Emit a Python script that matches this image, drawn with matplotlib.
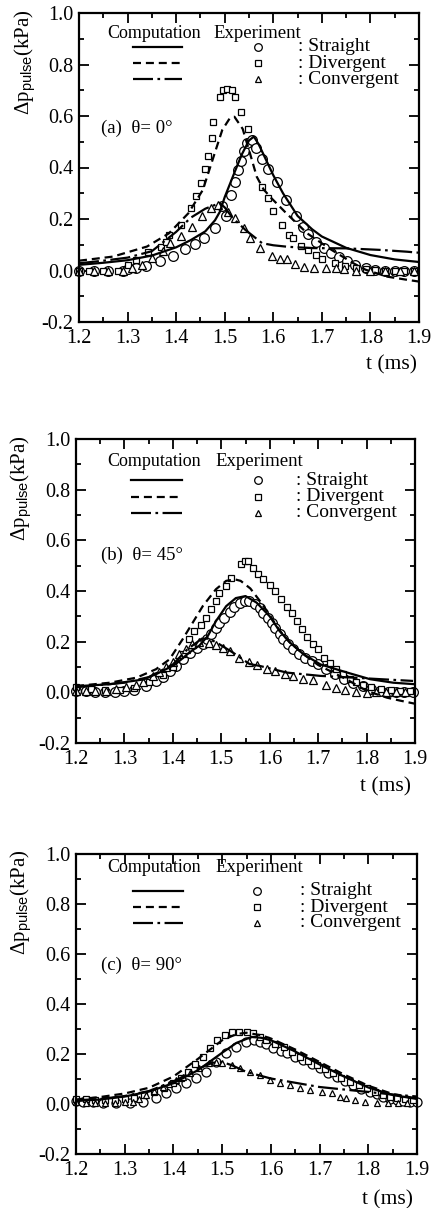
import matplotlib
matplotlib.use("Agg")
import matplotlib.pyplot as plt
from matplotlib.ticker import MultipleLocator, FormatStrFormatter

plt.rcParams["font.family"] = ["Liberation Serif", "DejaVu Serif"]
plt.rcParams["mathtext.fontset"] = "custom"
plt.rcParams["mathtext.rm"] = "Liberation Serif"
plt.rcParams["mathtext.it"] = "Liberation Serif:italic"
plt.rcParams["mathtext.sf"] = "Liberation Sans"

# ==================================================
# Panel (a) theta = 0 deg
# ==================================================
a_str_comp_t = [1.20, 1.25, 1.30, 1.35, 1.40, 1.43, 1.46, 1.48, 1.49, 1.50, 1.52, 1.535, 1.55, 1.56, 1.57, 1.585, 1.60, 1.62, 1.65, 1.68, 1.70, 1.75, 1.80, 1.85, 1.90]
a_str_comp_v = [0.022, 0.030, 0.040, 0.058, 0.090, 0.118, 0.152, 0.195, 0.228, 0.285, 0.380, 0.450, 0.505, 0.520, 0.490, 0.430, 0.370, 0.300, 0.212, 0.160, 0.132, 0.088, 0.060, 0.043, 0.033]
a_div_comp_t = [1.20, 1.27, 1.34, 1.385, 1.425, 1.455, 1.475, 1.495, 1.51, 1.52, 1.537, 1.552, 1.566, 1.58, 1.595, 1.627, 1.67, 1.72, 1.765, 1.79, 1.835, 1.875, 1.90]
a_div_comp_v = [0.038, 0.054, 0.093, 0.144, 0.222, 0.313, 0.430, 0.546, 0.590, 0.597, 0.550, 0.455, 0.364, 0.315, 0.283, 0.222, 0.144, 0.080, 0.028, 0.003, -0.024, -0.036, -0.043]
a_con_comp_t = [1.20, 1.25, 1.30, 1.35, 1.40, 1.43, 1.46, 1.49, 1.50, 1.516, 1.543, 1.577, 1.60, 1.63, 1.68, 1.75, 1.82, 1.875, 1.90]
a_con_comp_v = [0.028, 0.038, 0.050, 0.075, 0.150, 0.205, 0.240, 0.262, 0.245, 0.205, 0.157, 0.106, 0.098, 0.092, 0.087, 0.086, 0.080, 0.073, 0.069]

a_str_exp_t = [1.20, 1.23, 1.26, 1.29, 1.30, 1.318, 1.337, 1.366, 1.393, 1.418, 1.438, 1.457, 1.479, 1.495, 1.502, 1.512, 1.521, 1.528, 1.534, 1.539, 1.546, 1.557, 1.565, 1.576, 1.59, 1.608, 1.627, 1.646, 1.661, 1.672, 1.687, 1.704, 1.719, 1.735, 1.751, 1.768, 1.79, 1.81, 1.83, 1.85, 1.87, 1.89]
a_str_exp_v = [0.0, 0.0, 0.0, 0.0, 0.005, 0.010, 0.016, 0.035, 0.057, 0.082, 0.104, 0.125, 0.164, 0.250, 0.212, 0.293, 0.343, 0.390, 0.425, 0.465, 0.494, 0.505, 0.475, 0.434, 0.393, 0.342, 0.274, 0.210, 0.167, 0.143, 0.110, 0.086, 0.068, 0.051, 0.037, 0.023, 0.008, 0.003, 0.0, 0.0, 0.0, 0.0]
a_div_exp_t = [1.20, 1.22, 1.25, 1.28, 1.30, 1.317, 1.343, 1.368, 1.38, 1.385, 1.409, 1.43, 1.44, 1.452, 1.46, 1.466, 1.474, 1.475, 1.49, 1.497, 1.505, 1.514, 1.522, 1.534, 1.547, 1.576, 1.59, 1.60, 1.617, 1.633, 1.641, 1.658, 1.671, 1.688, 1.70, 1.727, 1.748, 1.77, 1.79, 1.81, 1.83, 1.85, 1.87, 1.89]
a_div_exp_v = [0.0, 0.0, 0.0, 0.0, 0.020, 0.040, 0.070, 0.093, 0.112, 0.138, 0.177, 0.241, 0.289, 0.341, 0.393, 0.443, 0.513, 0.578, 0.672, 0.700, 0.706, 0.700, 0.672, 0.615, 0.550, 0.325, 0.282, 0.231, 0.177, 0.138, 0.125, 0.096, 0.080, 0.060, 0.045, 0.030, 0.017, 0.010, 0.005, 0.003, 0.0, 0.0, 0.0, 0.0]
a_con_exp_t = [1.20, 1.23, 1.26, 1.29, 1.31, 1.33, 1.35, 1.373, 1.387, 1.41, 1.432, 1.453, 1.472, 1.486, 1.507, 1.521, 1.539, 1.553, 1.573, 1.597, 1.614, 1.628, 1.645, 1.664, 1.684, 1.709, 1.73, 1.745, 1.77, 1.80, 1.83, 1.86, 1.89]
a_con_exp_v = [0.0, 0.0, 0.0, 0.0, 0.008, 0.020, 0.047, 0.075, 0.105, 0.135, 0.170, 0.212, 0.243, 0.256, 0.228, 0.205, 0.166, 0.125, 0.086, 0.058, 0.045, 0.043, 0.027, 0.012, 0.010, 0.008, 0.010, 0.005, 0.0, 0.0, 0.0, 0.0, 0.0]

# ==================================================
# Panel (b) theta = 45 deg
# ==================================================
b_str_comp_t = [1.20, 1.27, 1.34, 1.37, 1.405, 1.434, 1.455, 1.472, 1.489, 1.51, 1.53, 1.55, 1.573, 1.60, 1.62, 1.642, 1.67, 1.705, 1.76, 1.807, 1.855, 1.90]
b_str_comp_v = [0.024, 0.032, 0.051, 0.076, 0.110, 0.157, 0.185, 0.222, 0.281, 0.340, 0.372, 0.380, 0.354, 0.300, 0.243, 0.196, 0.150, 0.110, 0.078, 0.052, 0.038, 0.032]
b_div_comp_t = [1.20, 1.27, 1.325, 1.365, 1.393, 1.42, 1.441, 1.462, 1.489, 1.51, 1.528, 1.54, 1.56, 1.58, 1.60, 1.62, 1.64, 1.67, 1.70, 1.76, 1.80, 1.842, 1.87, 1.90]
b_div_comp_v = [0.025, 0.038, 0.058, 0.091, 0.130, 0.209, 0.275, 0.341, 0.407, 0.440, 0.446, 0.440, 0.410, 0.360, 0.305, 0.245, 0.200, 0.150, 0.108, 0.050, 0.006, -0.021, -0.033, -0.045]
b_con_comp_t = [1.20, 1.30, 1.35, 1.40, 1.43, 1.46, 1.475, 1.496, 1.524, 1.558, 1.58, 1.635, 1.704, 1.773, 1.828, 1.896]
b_con_comp_v = [0.020, 0.038, 0.060, 0.110, 0.170, 0.212, 0.212, 0.190, 0.157, 0.112, 0.104, 0.078, 0.065, 0.058, 0.052, 0.045]

b_str_exp_t = [1.20, 1.22, 1.24, 1.26, 1.28, 1.30, 1.32, 1.345, 1.365, 1.38, 1.394, 1.406, 1.42, 1.435, 1.45, 1.462, 1.47, 1.479, 1.489, 1.496, 1.506, 1.517, 1.527, 1.538, 1.548, 1.558, 1.57, 1.579, 1.587, 1.597, 1.604, 1.611, 1.621, 1.628, 1.638, 1.648, 1.66, 1.672, 1.687, 1.70, 1.717, 1.734, 1.754, 1.771, 1.792, 1.81, 1.827, 1.844, 1.86, 1.878, 1.895]
b_str_exp_v = [0.005, 0.005, 0.0, 0.0, 0.0, 0.005, 0.010, 0.025, 0.045, 0.062, 0.085, 0.104, 0.130, 0.155, 0.175, 0.190, 0.210, 0.229, 0.255, 0.275, 0.295, 0.318, 0.337, 0.352, 0.360, 0.362, 0.347, 0.334, 0.315, 0.295, 0.275, 0.255, 0.229, 0.209, 0.190, 0.170, 0.150, 0.137, 0.124, 0.110, 0.091, 0.071, 0.051, 0.038, 0.025, 0.012, 0.005, 0.0, 0.0, 0.0, 0.0]
b_div_exp_t = [1.20, 1.23, 1.26, 1.29, 1.32, 1.35, 1.38, 1.40, 1.42, 1.434, 1.444, 1.458, 1.468, 1.479, 1.489, 1.496, 1.51, 1.52, 1.541, 1.548, 1.556, 1.566, 1.576, 1.587, 1.601, 1.611, 1.623, 1.635, 1.645, 1.657, 1.666, 1.678, 1.689, 1.70, 1.712, 1.724, 1.737, 1.752, 1.766, 1.779, 1.793, 1.81, 1.83, 1.85, 1.87, 1.89]
b_div_exp_v = [0.020, 0.012, 0.010, 0.010, 0.018, 0.040, 0.070, 0.100, 0.150, 0.209, 0.242, 0.264, 0.295, 0.328, 0.360, 0.393, 0.420, 0.453, 0.505, 0.518, 0.518, 0.492, 0.466, 0.446, 0.422, 0.400, 0.367, 0.337, 0.312, 0.281, 0.251, 0.220, 0.190, 0.170, 0.137, 0.114, 0.091, 0.071, 0.051, 0.040, 0.030, 0.020, 0.012, 0.008, 0.005, 0.005]
b_con_exp_t = [1.20, 1.22, 1.24, 1.262, 1.283, 1.303, 1.324, 1.338, 1.358, 1.372, 1.386, 1.40, 1.413, 1.427, 1.44, 1.455, 1.475, 1.489, 1.503, 1.517, 1.537, 1.558, 1.573, 1.594, 1.611, 1.632, 1.649, 1.669, 1.69, 1.717, 1.737, 1.755, 1.779, 1.80, 1.82, 1.84, 1.86, 1.88]
b_con_exp_v = [0.005, 0.005, 0.005, 0.005, 0.012, 0.020, 0.030, 0.040, 0.064, 0.080, 0.100, 0.120, 0.150, 0.170, 0.190, 0.200, 0.196, 0.186, 0.176, 0.163, 0.137, 0.120, 0.107, 0.094, 0.085, 0.071, 0.064, 0.051, 0.050, 0.028, 0.018, 0.009, 0.0, -0.003, 0.0, 0.0, 0.0, 0.0]

# ==================================================
# Panel (c) theta = 90 deg
# ==================================================
c_str_comp_t = [1.20, 1.25, 1.30, 1.35, 1.40, 1.45, 1.50, 1.53, 1.56, 1.58, 1.60, 1.65, 1.70, 1.75, 1.80, 1.85, 1.90]
c_str_comp_v = [0.012, 0.018, 0.030, 0.050, 0.083, 0.135, 0.205, 0.245, 0.268, 0.265, 0.255, 0.210, 0.158, 0.110, 0.066, 0.036, 0.020]
c_div_comp_t = [1.20, 1.25, 1.30, 1.35, 1.40, 1.45, 1.50, 1.53, 1.55, 1.58, 1.60, 1.65, 1.70, 1.75, 1.80, 1.85, 1.90]
c_div_comp_v = [0.018, 0.028, 0.042, 0.065, 0.110, 0.180, 0.255, 0.280, 0.285, 0.275, 0.262, 0.218, 0.168, 0.118, 0.073, 0.040, 0.022]
c_con_comp_t = [1.20, 1.25, 1.30, 1.35, 1.40, 1.45, 1.48, 1.50, 1.52, 1.55, 1.60, 1.65, 1.70, 1.75, 1.80, 1.85, 1.90]
c_con_comp_v = [0.015, 0.020, 0.032, 0.052, 0.090, 0.140, 0.165, 0.168, 0.155, 0.128, 0.102, 0.085, 0.068, 0.058, 0.048, 0.038, 0.030]

c_str_exp_t = [1.20, 1.214, 1.234, 1.255, 1.283, 1.31, 1.337, 1.364, 1.385, 1.405, 1.426, 1.446, 1.467, 1.487, 1.508, 1.528, 1.549, 1.565, 1.578, 1.591, 1.605, 1.62, 1.633, 1.65, 1.667, 1.684, 1.701, 1.718, 1.735, 1.752, 1.769, 1.786, 1.804, 1.818, 1.831, 1.845, 1.858, 1.872, 1.885, 1.90]
c_str_exp_v = [0.012, 0.010, 0.007, 0.005, 0.005, 0.005, 0.009, 0.023, 0.043, 0.063, 0.083, 0.103, 0.129, 0.169, 0.203, 0.229, 0.250, 0.258, 0.250, 0.240, 0.223, 0.212, 0.203, 0.190, 0.176, 0.160, 0.143, 0.126, 0.109, 0.092, 0.076, 0.062, 0.049, 0.039, 0.029, 0.022, 0.015, 0.012, 0.010, 0.010]
c_div_exp_t = [1.20, 1.22, 1.24, 1.26, 1.28, 1.30, 1.32, 1.34, 1.36, 1.38, 1.40, 1.415, 1.43, 1.445, 1.46, 1.475, 1.49, 1.505, 1.52, 1.535, 1.55, 1.564, 1.578, 1.591, 1.608, 1.626, 1.643, 1.66, 1.677, 1.694, 1.711, 1.728, 1.745, 1.763, 1.78, 1.797, 1.814, 1.831, 1.845, 1.858, 1.875, 1.892]
c_div_exp_v = [0.020, 0.020, 0.015, 0.015, 0.015, 0.020, 0.025, 0.035, 0.050, 0.065, 0.085, 0.105, 0.130, 0.160, 0.190, 0.225, 0.255, 0.275, 0.288, 0.290, 0.290, 0.283, 0.270, 0.256, 0.242, 0.229, 0.209, 0.189, 0.172, 0.156, 0.140, 0.123, 0.106, 0.089, 0.076, 0.063, 0.050, 0.036, 0.030, 0.023, 0.020, 0.016]
c_con_exp_t = [1.20, 1.22, 1.24, 1.26, 1.28, 1.30, 1.316, 1.33, 1.344, 1.36, 1.378, 1.39, 1.405, 1.42, 1.433, 1.453, 1.474, 1.488, 1.50, 1.521, 1.537, 1.557, 1.578, 1.598, 1.619, 1.639, 1.66, 1.681, 1.705, 1.725, 1.742, 1.755, 1.773, 1.793, 1.817, 1.84, 1.86, 1.88]
c_con_exp_v = [0.010, 0.005, 0.005, 0.005, 0.005, 0.008, 0.010, 0.022, 0.036, 0.052, 0.069, 0.082, 0.096, 0.110, 0.123, 0.143, 0.163, 0.167, 0.163, 0.155, 0.143, 0.130, 0.116, 0.096, 0.083, 0.076, 0.063, 0.056, 0.050, 0.043, 0.030, 0.023, 0.016, 0.010, 0.003, 0.003, 0.003, 0.003]

panel_tags = ["(a)", "(b)", "(c)"]
panel_angles = ["0", "45", "90"]
case_names = [": Straight", ": Divergent", ": Convergent"]
x_ticks = [1.2, 1.3, 1.4, 1.5, 1.6, 1.7, 1.8, 1.9]
y_ticks = [-0.2, 0.0, 0.2, 0.4, 0.6, 0.8, 1.0]

comp_data = [
    [(a_str_comp_t, a_str_comp_v), (a_div_comp_t, a_div_comp_v), (a_con_comp_t, a_con_comp_v)],
    [(b_str_comp_t, b_str_comp_v), (b_div_comp_t, b_div_comp_v), (b_con_comp_t, b_con_comp_v)],
    [(c_str_comp_t, c_str_comp_v), (c_div_comp_t, c_div_comp_v), (c_con_comp_t, c_con_comp_v)],
]
exp_data = [
    [(a_str_exp_t, a_str_exp_v), (a_div_exp_t, a_div_exp_v), (a_con_exp_t, a_con_exp_v)],
    [(b_str_exp_t, b_str_exp_v), (b_div_exp_t, b_div_exp_v), (b_con_exp_t, b_con_exp_v)],
    [(c_str_exp_t, c_str_exp_v), (c_div_exp_t, c_div_exp_v), (c_con_exp_t, c_con_exp_v)],
]

# ==================================================
# Styling / layout
# ==================================================
line_styles = ["-", (0, (3.6, 2.2)), (0, (9, 2, 1.2, 2))]
markers = ["o", "s", "^"]
marker_sizes = [[7, 5, 5.5], [7, 5, 5.5], [6.5, 4.6, 5]]
legend_ms = [5.5, 4.2, 4.5]

axes_rects = [
    [79 / 439, 1 - 322 / 1208, 340 / 439, 309 / 1208],
    [76 / 439, 1 - 743 / 1208, 339 / 439, 304 / 1208],
    [76 / 439, 1 - 1154 / 1208, 341 / 439, 300 / 1208],
]
# legend layout (axes fraction): header y, row ys, key x0/x1, marker x, label x, header x's
legend_layout = [
    dict(hy=0.935, rows=[0.890, 0.838, 0.786], kx=(0.159, 0.303), mx=0.526, lx=0.644, cx=0.082, ex=0.394, tag=(0.065, 0.628)),
    dict(hy=0.925, rows=[0.865, 0.810, 0.757], kx=(0.162, 0.313), mx=0.537, lx=0.649, cx=0.091, ex=0.410, tag=(0.074, 0.618)),
    dict(hy=0.955, rows=[0.878, 0.822, 0.771], kx=(0.166, 0.315), mx=0.530, lx=0.657, cx=0.091, ex=0.410, tag=(0.074, 0.630)),
]
xlabel_pos = [(0.994, -0.107), (0.987, -0.111), (0.989, -0.12)]
ylabel_x = [-0.12, -0.124, -0.124]

FS = 13.5

fig = plt.figure(figsize=(4.39, 12.08), dpi=100)

for p in range(3):
    ax = fig.add_axes(axes_rects[p])

    # experiment markers
    for k in range(3):
        t, v = exp_data[p][k]
        ax.plot(t, v, linestyle="none", marker=markers[k], ms=marker_sizes[p][k],
                mfc="white", mec="black", mew=0.9, zorder=2, clip_on=False)
    # computation curves
    for k in range(3):
        t, v = comp_data[p][k]
        ax.plot(t, v, color="black", lw=1.6, linestyle=line_styles[k], zorder=3)

    ax.set_xlim(1.2, 1.9)
    ax.set_ylim(-0.2, 1.0)
    ax.set_xticks(x_ticks)
    ax.set_yticks(y_ticks)
    ax.xaxis.set_minor_locator(MultipleLocator(0.05))
    ax.yaxis.set_minor_locator(MultipleLocator(0.1))
    ax.xaxis.set_major_formatter(FormatStrFormatter("%.1f"))
    ax.yaxis.set_major_formatter(FormatStrFormatter("%.1f"))
    ax.tick_params(which="both", direction="in", top=True, right=True, width=1.3, labelsize=14.5)
    ax.tick_params(which="major", length=7)
    ax.tick_params(which="minor", length=3.5)
    ax.tick_params(axis="x", pad=5)
    ax.tick_params(axis="y", pad=4)
    for sp in ax.spines.values():
        sp.set_linewidth(1.6)

    ax.set_ylabel(r"$\mathit{\Delta}\mathrm{p}_{\mathsf{pulse}}$(kPa)", fontsize=15)
    ax.yaxis.set_label_coords(ylabel_x[p], 0.84)
    ax.text(xlabel_pos[p][0], xlabel_pos[p][1], "t (ms)", transform=ax.transAxes,
            ha="right", va="top", fontsize=15.5)

    # legend block
    lay = legend_layout[p]
    ax.text(lay["cx"], lay["hy"], "Computation", transform=ax.transAxes, ha="left", va="center", fontsize=13)
    ax.text(lay["ex"], lay["hy"], "Experiment", transform=ax.transAxes, ha="left", va="center", fontsize=13.5)
    for k in range(3):
        y = lay["rows"][k]
        ax.plot(lay["kx"], [y, y], transform=ax.transAxes, color="black", lw=1.6, linestyle=line_styles[k])
        ax.plot([lay["mx"]], [y], transform=ax.transAxes, linestyle="none", marker=markers[k],
                ms=legend_ms[k], mfc="white", mec="black", mew=0.9)
        ax.text(lay["lx"], y, case_names[k], transform=ax.transAxes, ha="left", va="center", fontsize=FS + 0.5)

    ax.text(lay["tag"][0], lay["tag"][1], panel_tags[p] + "  \u03b8= " + panel_angles[p] + "\u00b0",
            transform=ax.transAxes, ha="left", va="center", fontsize=FS)

fig.savefig("out.png", dpi=100)
